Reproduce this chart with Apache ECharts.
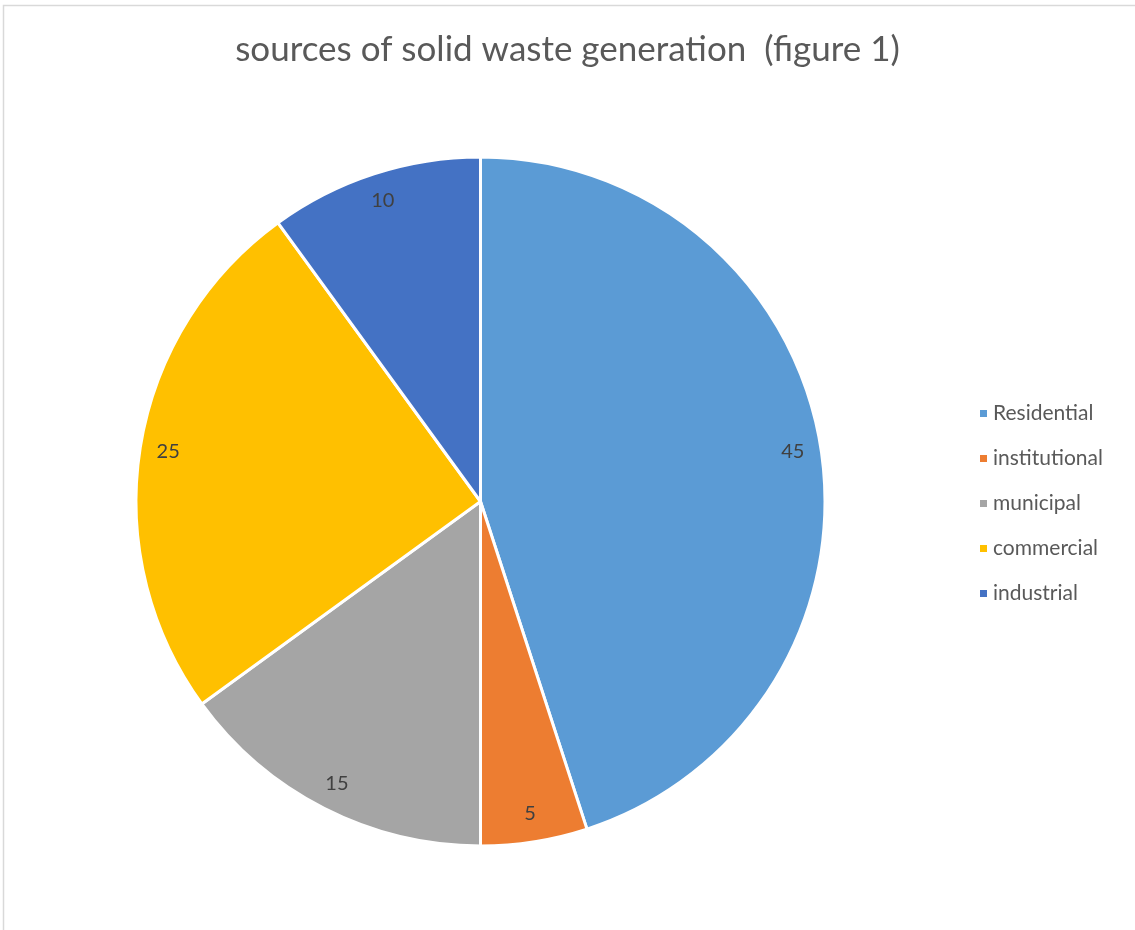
<!DOCTYPE html>
<html><head><meta charset="utf-8">
<script src="https://cdn.jsdelivr.net/npm/echarts@6/dist/echarts.min.js"></script>
<style>html,body{margin:0;padding:0;background:#fff}#c{width:1135px;height:930px}</style>
</head><body><div id="c"></div>
<script>
const categories = ['Residential', 'institutional', 'municipal', 'commercial', 'industrial'];
const values = [45, 5, 15, 25, 10];
const colors = ['#5B9BD5', '#ED7D31', '#A5A5A5', '#FFC000', '#4472C4'];
const titleText = 'sources of solid waste generation  (figure 1)';

const chart = echarts.init(document.getElementById('c'), null, {renderer: 'canvas'});
const data = categories.map((n, i) => ({name: n, value: values[i], itemStyle: {color: colors[i]}}));
const labelData = categories.map((n, i) => ({name: n, value: values[i]}));
const font = 'Lato, "Open Sans", sans-serif';
chart.setOption({
  animation: false,
  title: {text: titleText, left: 'center', top: 27, textStyle: {fontFamily: font, fontSize: 35, fontWeight: 'normal', color: '#595959'}},
  legend: {
    orient: 'vertical', left: 973, top: 398, itemWidth: 9, itemHeight: 9, itemGap: 24, icon: 'rect',
    textStyle: {fontFamily: font, fontSize: 21, color: '#595959', lineHeight: 20},
    data: categories.map((n, i) => ({name: n, itemStyle: {color: colors[i]}}))
  },
  graphic: [{type: 'rect', left: 1, top: 3, shape: {width: 1300, height: 1100}, style: {fill: 'none', stroke: '#d9d9d9', lineWidth: 1.5}, silent: true}],
  series: [{
    type: 'pie', center: [480.5, 501.5], radius: [0, 344.5], startAngle: 90, clockwise: true,
    label: {show: false}, labelLine: {show: false},
    itemStyle: {borderColor: '#fff', borderWidth: 3},
    emphasis: {disabled: true},
    data: data
  }, {
    type: 'pie', center: [480.5, 501.5], radius: [282, 344.5], startAngle: 90, clockwise: true, silent: true,
    itemStyle: {color: 'rgba(0,0,0,0)', borderWidth: 0},
    label: {show: true, position: 'inside', formatter: '{c}', fontFamily: font, fontSize: 20, color: '#404040'},
    labelLine: {show: false},
    emphasis: {disabled: true},
    data: labelData
  }]
});
</script></body></html>
